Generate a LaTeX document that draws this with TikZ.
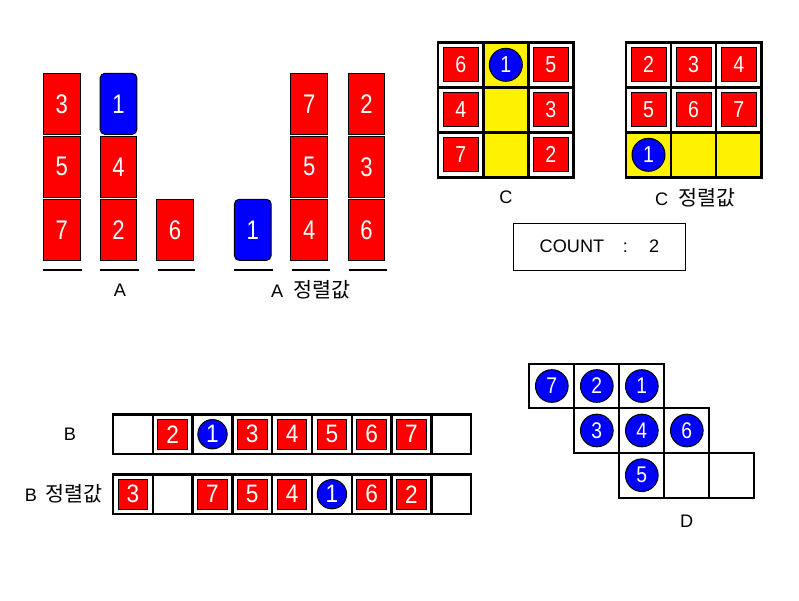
\documentclass[tikz,border=0pt]{standalone}
\usepackage{fontspec}
\setmainfont{Liberation Sans}
\newfontfamily\digA[FakeStretch=0.82]{Liberation Sans}
\newfontfamily\digB[FakeStretch=0.9]{Liberation Sans}
\newfontfamily\digC[FakeStretch=0.85]{Liberation Sans}
\newfontfamily\krfont{Noto Sans CJK KR}
\newcommand\krtxt[1]{{\krfont\fontsize{15.5}{18}\selectfont #1}}
\begin{document}
\begin{tikzpicture}[x=0.75pt,y=-0.75pt,
  acard/.style={draw=black,line width=0.75pt,minimum width=27.5pt,minimum height=45.75pt,inner sep=0pt,text=white,font=\digA\fontsize{20.2}{21}\selectfont},
  ared/.style={acard,fill=red},
  ablue/.style={acard,fill=blue,rounded corners=3.5pt},
  csq/.style={draw=black,line width=0.75pt,fill=red,minimum width=26.25pt,minimum height=25.5pt,inner sep=0pt,text=white,font=\digC\fontsize{17.3}{18}\selectfont},
  ccirc/.style={circle,draw=black,line width=0.75pt,fill=blue,minimum size=24.75pt,inner sep=0pt,text=white,font=\digC\fontsize{17.3}{18}\selectfont},
  bsq/.style={draw=black,line width=0.75pt,fill=red,minimum width=22.1pt,minimum height=22.5pt,inner sep=0pt,text=white,font=\digB\fontsize{18.9}{19}\selectfont},
  bcirc/.style={circle,draw=black,line width=0.75pt,fill=blue,minimum size=22pt,inner sep=0pt,text=white,font=\digB\fontsize{18.9}{19}\selectfont},
  dcirc/.style={circle,draw=black,line width=0.75pt,fill=blue,minimum size=24.5pt,inner sep=0pt,text=white,font=\digC\fontsize{17}{18}\selectfont},
  uline/.style={line width=1.5pt},
  gline/.style={line width=1.9pt},
  dline/.style={line width=1.5pt},
  lbl/.style={inner sep=0pt,font=\fontsize{13.6}{16}\selectfont},
  cntbox/.style={draw=black,line width=0.75pt,minimum width=129.3pt,minimum height=35pt,inner sep=0pt,font=\fontsize{13.6}{16}\selectfont}
]
\useasboundingbox (0,0) rectangle (799,600);

% ---------- A ----------
\node[ared]  (a1a) at (61.7,103.8) {3};
\node[ared]  (a1b) at (61.7,166.8) {5};
\node[ared]  (a1c) at (61.7,229.8) {7};
\node[ablue] (a2a) at (118.5,103.8) {1};
\node[ared]  (a2b) at (118.5,166.8) {4};
\node[ared]  (a2c) at (118.5,229.8) {2};
\node[ared]  (a3c) at (175,229.8) {6};
\node[ablue] (a4c) at (252.8,229.8) {1};
\node[ared]  (a5a) at (309.3,103.8) {7};
\node[ared]  (a5b) at (309.3,166.8) {5};
\node[ared]  (a5c) at (309.3,229.8) {4};
\node[ared]  (a6a) at (366.5,103.8) {2};
\node[ared]  (a6b) at (366.5,166.8) {3};
\node[ared]  (a6c) at (366.5,229.8) {6};
\draw[uline] (43,270) -- (82,270);
\draw[uline] (100,270) -- (139,270);
\draw[uline] (157.5,270) -- (195,270);
\draw[uline] (234,270) -- (273,270);
\draw[uline] (291.7,270) -- (330,270);
\draw[uline] (348.7,270) -- (387,270);
\node[lbl] (la) at (120,290) {A};
\node[lbl] (las) at (311,290) {A\hspace{8pt}\krtxt{정렬값}};

% ---------- C ----------
\fill[yellow] (483.3,42.3) rectangle (528.3,177.3);
\draw[gline] (438,42.3) rectangle (573.3,177.3);
\draw[gline] (483.3,42.3) -- (483.3,177.3);
\draw[gline] (528.3,42.3) -- (528.3,177.3);
\draw[gline] (438,87.3) -- (573.3,87.3);
\draw[gline] (438,132.3) -- (573.3,132.3);
\node[csq]   (c11) at (460.7,64.8) {6};
\node[ccirc] (c12) at (505.8,64.8) {1};
\node[csq]   (c13) at (550.8,64.8) {5};
\node[csq]   (c21) at (460.7,109.8) {4};
\node[csq]   (c23) at (550.8,109.8) {3};
\node[csq]   (c31) at (460.7,154.8) {7};
\node[csq]   (c33) at (550.8,154.8) {2};
\node[lbl] (lc) at (506,197) {C};

% ---------- C sorted ----------
\fill[yellow] (626,132.3) rectangle (761.3,177.3);
\draw[gline] (626,42.3) rectangle (761.3,177.3);
\draw[gline] (671.1,42.3) -- (671.1,177.3);
\draw[gline] (716.2,42.3) -- (716.2,177.3);
\draw[gline] (626,87.3) -- (761.3,87.3);
\draw[gline] (626,132.3) -- (761.3,132.3);
\node[csq]   (s11) at (648.5,64.8) {2};
\node[csq]   (s12) at (693.6,64.8) {3};
\node[csq]   (s13) at (738.7,64.8) {4};
\node[csq]   (s21) at (648.5,109.8) {5};
\node[csq]   (s22) at (693.6,109.8) {6};
\node[csq]   (s23) at (738.7,109.8) {7};
\node[ccirc] (s31) at (648.5,154.8) {1};
\node[lbl] (lcs) at (695.5,198) {C\hspace{8pt}\krtxt{정렬값}};

% ---------- COUNT ----------
\node[cntbox] (cnt) at (599.5,246.7) {COUNT\hspace{14pt}:\hspace{16pt}2};

% ---------- B ----------
\draw[gline] (113,414.3) rectangle (471.2,454);
\draw[gline] (113,474.3) rectangle (471.2,514);
\foreach \k in {1,...,8} {
  \draw[gline] ({113+39.8*\k},414.3) -- ({113+39.8*\k},454);
  \draw[gline] ({113+39.8*\k},474.3) -- ({113+39.8*\k},514);
}
\node[bsq]   (b2) at (172.7,434.2) {2};
\node[bcirc] (b3) at (212.5,434.2) {1};
\node[bsq]   (b4) at (252.3,434.2) {3};
\node[bsq]   (b5) at (292.1,434.2) {4};
\node[bsq]   (b6) at (331.9,434.2) {5};
\node[bsq]   (b7) at (371.7,434.2) {6};
\node[bsq]   (b8) at (411.5,434.2) {7};
\node[bsq]   (bs1) at (132.9,494.2) {3};
\node[bsq]   (bs3) at (212.5,494.2) {7};
\node[bsq]   (bs4) at (252.3,494.2) {5};
\node[bsq]   (bs5) at (292.1,494.2) {4};
\node[bcirc] (bs6) at (331.9,494.2) {1};
\node[bsq]   (bs7) at (371.7,494.2) {6};
\node[bsq]   (bs8) at (411.5,494.2) {2};
\node[lbl] (lb) at (70,434) {B};
\node[lbl] (lbs) at (63.5,494) {B\hspace{6pt}\krtxt{정렬값}};

% ---------- D ----------
\draw[dline] (529.3,364.3) rectangle (574.3,408.3);
\draw[dline] (574.3,364.3) rectangle (619.3,408.3);
\draw[dline] (619.3,364.3) rectangle (664.3,408.3);
\draw[dline] (574.3,408.3) rectangle (619.3,452.7);
\draw[dline] (619.3,408.3) rectangle (664.3,452.7);
\draw[dline] (664.3,408.3) rectangle (709.3,452.7);
\draw[dline] (619.3,452.7) rectangle (664.3,497.7);
\draw[dline] (664.3,452.7) rectangle (709.3,497.7);
\draw[dline] (709.3,452.7) rectangle (754.3,497.7);
\node[dcirc] (d11) at (551.8,386) {7};
\node[dcirc] (d12) at (596.8,386) {2};
\node[dcirc] (d13) at (641.8,386) {1};
\node[dcirc] (d22) at (596.8,430.5) {3};
\node[dcirc] (d23) at (641.8,430.5) {4};
\node[dcirc] (d24) at (686.8,430.5) {6};
\node[dcirc] (d33) at (641.8,475.2) {5};
\node[lbl] (ld) at (686.7,521.7) {D};
\end{tikzpicture}
\end{document}
